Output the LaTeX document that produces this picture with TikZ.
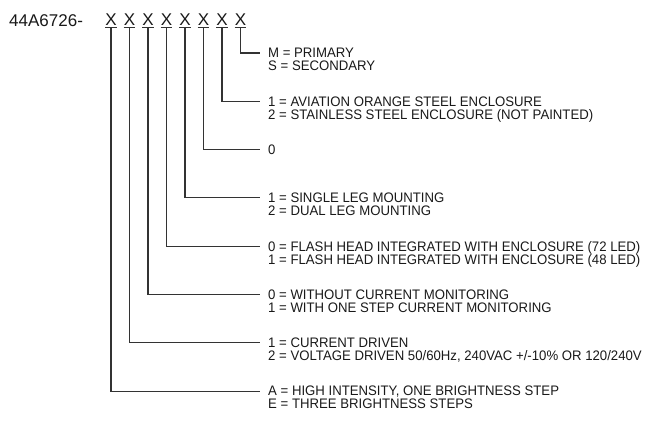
\documentclass[tikz,border=0pt]{standalone}
\usepackage{fontspec}
\setmainfont{Liberation Sans}
\newfontfamily\optfont[FakeStretch=0.955]{Liberation Sans}
\begin{document}
\begin{tikzpicture}[x=1pt,y=-1pt,
  conn/.style={draw=black!80,line width=1.1pt},
  opt/.style={anchor=base west,inner sep=0pt,text height=9.6pt,text depth=0pt,
    font=\optfont\fontsize{13.8}{13.8}\selectfont,text=black!90},
  digit/.style={anchor=base,inner xsep=0pt,inner ysep=1pt,text height=12pt,text depth=0pt,
    font=\fontsize{17}{17}\selectfont,text=black!90}]
\useasboundingbox (0,0) rectangle (651,423);
\node[anchor=base west,inner sep=0pt,font=\fontsize{17}{17}\selectfont,text=black!90] (pn) at (9,26.8) {44A6726-};
% X placeholders (1 = leftmost)
\foreach \i/\xx in {1/111,2/129.5,3/148,4/166.5,5/185,6/203.5,7/222,8/240.5}{
  \node[digit] (x\i) at (\xx,25.8) {X};
  \draw[conn,line width=0.9pt] (x\i.south west) -- (x\i.south east);
}
% option texts
\node[opt] (t8a) at (268,57.8) {M = PRIMARY};
\node[opt] (t8b) at (268,70.8) {S = SECONDARY};
\node[opt] (t7a) at (268,106.1) {1 = AVIATION ORANGE STEEL ENCLOSURE};
\node[opt] (t7b) at (268,119.1) {2 = STAINLESS STEEL ENCLOSURE (NOT PAINTED)};
\node[opt] (t6a) at (268,154.4) {0};
\node[opt] (t5a) at (268,202.7) {1 = SINGLE LEG MOUNTING};
\node[opt] (t5b) at (268,215.7) {2 = DUAL LEG MOUNTING};
\node[opt] (t4a) at (268,251.0) {0 = FLASH HEAD INTEGRATED WITH ENCLOSURE (72 LED)};
\node[opt] (t4b) at (268,264.0) {1 = FLASH HEAD INTEGRATED WITH ENCLOSURE (48 LED)};
\node[opt] (t3a) at (268,299.3) {0 = WITHOUT CURRENT MONITORING};
\node[opt] (t3b) at (268,312.3) {1 = WITH ONE STEP CURRENT MONITORING};
\node[opt] (t2a) at (268,347.6) {1 = CURRENT DRIVEN};
\node[opt] (t2b) at (268,360.6) {2 = VOLTAGE DRIVEN 50/60Hz, 240VAC +/-10\% OR 120/240V};
\node[opt] (t1a) at (268,395.9) {A = HIGH INTENSITY, ONE BRIGHTNESS STEP};
\node[opt] (t1b) at (268,408.9) {E = THREE BRIGHTNESS STEPS};
% connectors
\foreach \i in {1,...,8}{
  \draw[conn] (x\i.south) |- ([xshift=-8pt]t\i a.west);
}
\end{tikzpicture}
\end{document}
